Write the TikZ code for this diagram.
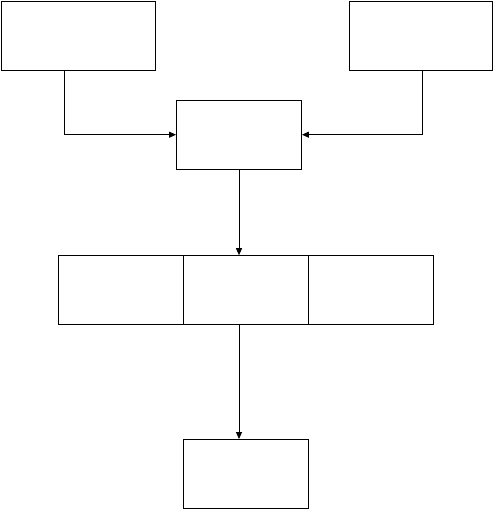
\documentclass[tikz,border=0pt]{standalone}
\usetikzlibrary{arrows.meta, positioning}

\begin{document}
\begin{tikzpicture}[
            x=1pt, y=-1pt,
            box/.style={draw, line width=0.9pt, inner sep=0pt, minimum height=69pt},
            cell/.style={box, outer sep=0pt, minimum width=125pt},
            arr/.style={line width=0.9pt, -{Triangle[length=7pt, width=6pt]}},
        ]
        \useasboundingbox (0,0) rectangle (493,509);

        % top sources
        \node[box, minimum width=154pt] (srcL) at (78.5, 35.5) {};
        \node[box, minimum width=143pt] (srcR) at (420.8, 35.5) {};

        % merge box
        \node[box, minimum width=125pt] (merge) at (239, 134.7) {};

        % row of three
        \node[cell] (rowA) at (120.8, 289.7) {};
        \node[cell, right=0pt of rowA] (rowB) {};
        \node[cell, right=0pt of rowB] (rowC) {};

        % output
        \node[box, minimum width=125pt] (out) at (245.8, 474) {};

        \draw[arr] ([xshift=-14.2pt]srcL.south) |- (merge.west);
        \draw[arr] ([xshift=1.5pt]srcR.south) |- (merge.east);
        \draw[arr] (merge.south) -- (merge.south |- rowB.north);
        \draw[arr] (rowB.south -| merge.south) -- (out.north -| merge.south);
    \end{tikzpicture}
\end{document}
